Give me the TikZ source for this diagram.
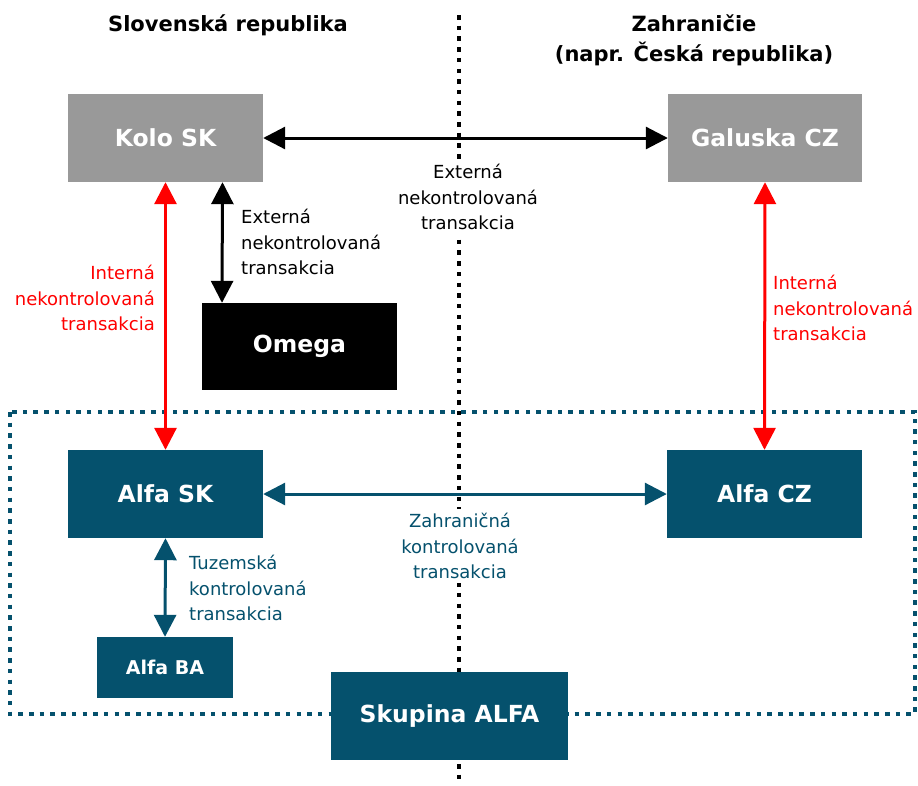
\documentclass[tikz,border=0pt]{standalone}
\usepackage{fontspec}
\setmainfont{DejaVu Sans}
\usetikzlibrary{arrows.meta}

\definecolor{alfablue}{RGB}{5,81,109}
\definecolor{kologray}{RGB}{153,153,153}
\definecolor{intred}{RGB}{255,0,0}

\begin{document}
\begin{tikzpicture}[x=1pt, y=-1pt,
    company/.style={inner sep=0pt, text=white, font=\fontsize{23.5}{28}\selectfont\bfseries},
    txn/.style={inner sep=0pt, font=\fontsize{18}{25.5}\selectfont},
    twoway/.style={{Triangle[length=22pt,width=22pt]}-{Triangle[length=22pt,width=22pt]}, line width=3pt},
    border/.style={line width=4.5pt, dash pattern=on 4.5pt off 6.2pt}]

\useasboundingbox (0,0) rectangle (918,785);

% Group ALFA
\draw[alfablue, line width=4pt, dash pattern=on 4.5pt off 6.2pt] (10,412) rectangle (915,714);

% Border between countries
\coordinate (bordertop) at (459,15);
\coordinate (borderbot) at (459,785);
\draw[border] (bordertop) -- (borderbot);

% Titles
\node[font=\fontsize{21}{26}\selectfont\bfseries] (sk) at (228,25) {Slovenská republika};
\node[font=\fontsize{21}{30}\selectfont\bfseries, align=center] (cz) at (694,40) {Zahraničie\\(napr. Česká republika)};

% Companies
\node[company, fill=kologray, minimum width=195pt, minimum height=88pt] (kolo) at (165.5,138) {Kolo SK};
\node[company, fill=kologray, minimum width=194pt, minimum height=88pt] (galuska) at (765,138) {Galuska CZ};
\node[company, fill=black, minimum width=195pt, minimum height=87pt] (omega) at (299.5,346.5) {Omega};
\node[company, fill=alfablue, minimum width=195pt, minimum height=88pt] (alfask) at (165.5,494) {Alfa SK};
\node[company, fill=alfablue, minimum width=195pt, minimum height=88pt] (alfacz) at (764.5,494) {Alfa CZ};
\node[company, fill=alfablue, minimum width=136pt, minimum height=61pt, font=\fontsize{19}{24}\selectfont\bfseries] (alfaba) at (165,667.5) {Alfa BA};
\node[company, fill=alfablue, minimum width=237pt, minimum height=88pt] (skupina) at (449.5,716) {Skupina ALFA};

% Externa nekontrolovana
\draw[twoway] (kolo) -- (galuska);
\node[txn, fill=white, inner sep=4pt, align=center] (extcz) at (468,197) {Externá\\nekontrolovaná\\transakcia};
\draw[twoway] ([xshift=57pt]kolo.south) -- ([xshift=-77.5pt]omega.north);
\node[txn, anchor=west, align=left] (extomega) at (241,242) {Externá\\nekontrolovaná\\transakcia};

% Interna nekontrolovana
\draw[twoway, intred] (kolo.south) -- (alfask.north);
\node[txn, text=intred, anchor=east, align=right] (intsk) at (155,298) {Interná\\nekontrolovaná\\transakcia};
\draw[twoway, intred] (galuska.south) -- (alfacz.north);
\node[txn, text=intred, anchor=west, align=left] (intcz) at (773,308) {Interná\\nekontrolovaná\\transakcia};

% Kontrolovane
\draw[twoway, alfablue] (alfask) -- (alfacz);
\node[txn, text=alfablue, fill=white, inner sep=4pt, align=center] (zahr) at (460,546) {Zahraničná\\kontrolovaná\\transakcia};
\draw[twoway, alfablue] (alfask.south) -- (alfaba.north);
\node[txn, text=alfablue, anchor=west, align=left] (tuz) at (189,588) {Tuzemská\\kontrolovaná\\transakcia};

\end{tikzpicture}
\end{document}
